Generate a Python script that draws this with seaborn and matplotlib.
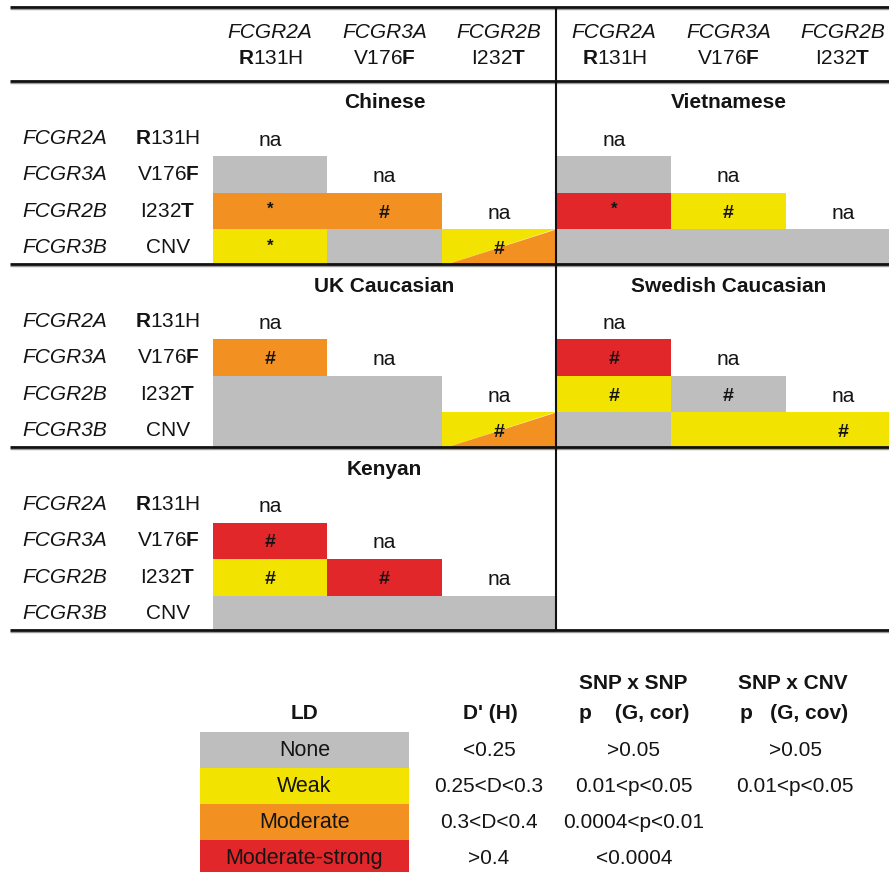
import numpy as np
import pandas as pd
import matplotlib
matplotlib.use("Agg")
import matplotlib.pyplot as plt
from matplotlib.colors import ListedColormap
from matplotlib.patches import Polygon
import seaborn as sns

# ---------------------------------------------------------------- data
genes = ["FCGR2A", "FCGR3A", "FCGR2B", "FCGR3B"]
variants = [r"$\mathbf{R}$131H", r"V176$\mathbf{F}$", r"I232$\mathbf{T}$", "CNV"]
col_genes = ["FCGR2A", "FCGR3A", "FCGR2B"]
col_variants = [r"$\mathbf{R}$131H", r"V176$\mathbf{F}$", r"I232$\mathbf{T}$"]

ld_levels = ["None", "Weak", "Moderate", "Moderate-strong"]
ld_colors = ["#BEBEBE", "#F2E400", "#F29122", "#E2272A"]

dprime_ranges = ["<0.25", "0.25<D<0.3", "0.3<D<0.4", ">0.4"]
snp_snp_p = [">0.05", "0.01<p<0.05", "0.0004<p<0.01", "<0.0004"]
snp_cnv_p = [">0.05", "0.01<p<0.05", "", ""]

N = np.nan
# LD level per pair (rows: genes, cols: col_genes); NaN = diagonal / empty
chinese_ld = [[N, N, N], [0, N, N], [2, 2, N], [1, 0, N]]
chinese_marks = [["na", "", ""], ["", "na", ""], ["*", "#", "na"], ["*", "", "#"]]
chinese_split = [(3, 2, 1, 2)]

vietnamese_ld = [[N, N, N], [0, N, N], [3, 1, N], [0, 0, 0]]
vietnamese_marks = [["na", "", ""], ["", "na", ""], ["*", "#", "na"], ["", "", ""]]
vietnamese_split = []

uk_ld = [[N, N, N], [2, N, N], [0, 0, N], [0, 0, N]]
uk_marks = [["na", "", ""], ["#", "na", ""], ["", "", "na"], ["", "", "#"]]
uk_split = [(3, 2, 1, 2)]

swedish_ld = [[N, N, N], [3, N, N], [1, 0, N], [0, 1, 1]]
swedish_marks = [["na", "", ""], ["#", "na", ""], ["#", "#", "na"], ["", "", "#"]]
swedish_split = []

kenyan_ld = [[N, N, N], [3, N, N], [1, 3, N], [0, 0, 0]]
kenyan_marks = [["na", "", ""], ["#", "na", ""], ["#", "#", "na"], ["", "", ""]]
kenyan_split = []

populations = [
    ("Chinese", chinese_ld, chinese_marks, chinese_split, 0, 0),
    ("Vietnamese", vietnamese_ld, vietnamese_marks, vietnamese_split, 1, 0),
    ("UK Caucasian", uk_ld, uk_marks, uk_split, 0, 1),
    ("Swedish Caucasian", swedish_ld, swedish_marks, swedish_split, 1, 1),
    ("Kenyan", kenyan_ld, kenyan_marks, kenyan_split, 0, 2),
]

# ---------------------------------------------------------------- style
sns.set_theme(style="white")
plt.rcParams["font.family"] = ["Liberation Sans", "DejaVu Sans"]
plt.rcParams["mathtext.fontset"] = "custom"
plt.rcParams["mathtext.rm"] = "Liberation Sans"
plt.rcParams["mathtext.bf"] = "Liberation Sans:bold"
plt.rcParams["mathtext.it"] = "Liberation Sans:italic"
plt.rcParams["mathtext.default"] = "regular"

W, H = 889, 872
FS = 15
TXT = "#141414"
cmap = ListedColormap(ld_colors)

fig = plt.figure(figsize=(W / 100, H / 100), dpi=100)


def add_px_axes(x0, y0, x1, y1, **kw):
    """Axes placed by pixel box (origin top-left)."""
    return fig.add_axes([x0 / W, 1 - y1 / H, (x1 - x0) / W, (y1 - y0) / H], **kw)


# layout (pixels)
panel_x = [213, 557]
col_w = 114.4
block_tops = [81, 264, 447]
row_h = 36.5
title_off = 22
rows_off = 39

for name, ld, marks, splits, pc, pr in populations:
    x0 = panel_x[pc]
    y0 = block_tops[pr] + rows_off
    ax = add_px_axes(x0, y0, x0 + 3 * col_w, y0 + 4 * row_h)
    df = pd.DataFrame(ld, index=genes, columns=col_genes, dtype=float)
    sns.heatmap(df, ax=ax, cmap=cmap, vmin=-0.5, vmax=3.5, cbar=False,
                xticklabels=False, yticklabels=False, linewidths=0)
    for r, c, upper, lower in splits:
        ax.add_patch(Polygon([(c, r + 1), (c, r), (c + 1, r)], closed=True,
                             facecolor=ld_colors[upper], edgecolor="none"))
        ax.add_patch(Polygon([(c, r + 1), (c + 1, r), (c + 1, r + 1)], closed=True,
                             facecolor=ld_colors[lower], edgecolor="none"))
    for r, row in enumerate(marks):
        for c, m in enumerate(row):
            if not m:
                continue
            if m == "na":
                ax.text(c + 0.5, r + 0.55, m, ha="center", va="center",
                        fontsize=FS, color=TXT)
            elif m == "#":
                ax.text(c + 0.5, r + 0.55, m, ha="center", va="center",
                        fontsize=14, fontweight="bold", color=TXT)
            else:
                ax.text(c + 0.5, r + 0.45, m, ha="center", va="center",
                        fontsize=12, fontweight="bold", color=TXT)
    ax.set_axis_off()

# legend swatches
lax = add_px_axes(200, 732, 409, 732 + 4 * 36)
leg_df = pd.DataFrame({"LD": np.arange(len(ld_levels), dtype=float)}, index=ld_levels)
sns.heatmap(leg_df, ax=lax, cmap=cmap, vmin=-0.5, vmax=3.5, cbar=False,
            xticklabels=False, yticklabels=False, linewidths=0)
for i, lvl in enumerate(ld_levels):
    lax.text(0.5, i + 0.52, lvl, ha="center", va="center", fontsize=15.5, color=TXT)
lax.set_axis_off()

# ---------------------------------------------------------------- frame, labels
base = fig.add_axes([0, 0, 1, 1], zorder=10)
base.set_xlim(0, W)
base.set_ylim(H, 0)
base.set_axis_off()

# horizontal rules with a soft grey under-shadow
for y in [7, block_tops[0], block_tops[1], block_tops[2], 630]:
    base.plot([10, W], [y + 2.2, y + 2.2], color="#9a9a9a", lw=1.0, solid_capstyle="butt")
    base.plot([10, W], [y, y], color="#111111", lw=2.0, solid_capstyle="butt")
base.plot([556, 556], [7, 630], color="#111111", lw=1.5, solid_capstyle="butt")

# column headers
for pc in range(2):
    for c in range(3):
        xc = panel_x[pc] + (c + 0.5) * col_w
        base.text(xc, 32, col_genes[c], ha="center", va="center",
                  fontsize=FS, style="italic", color=TXT)
        base.text(xc, 59, col_variants[c], ha="center", va="center",
                  fontsize=FS, color=TXT)

# population titles and row labels
for name, ld, marks, splits, pc, pr in populations:
    top = block_tops[pr]
    xc = panel_x[pc] + 1.5 * col_w
    base.text(xc, top + title_off, name, ha="center", va="center",
              fontsize=FS, fontweight="bold", color=TXT)
for pr in range(3):
    y0 = block_tops[pr] + rows_off
    for r in range(4):
        yc = y0 + (r + 0.5) * row_h
        base.text(22, yc, genes[r], ha="left", va="center",
                  fontsize=FS, style="italic", color=TXT)
        base.text(168, yc, variants[r], ha="center", va="center",
                  fontsize=FS, color=TXT)

# legend headers and thresholds
base.text(304, 713, "LD", ha="center", va="center", fontsize=FS, fontweight="bold", color=TXT)
base.text(490, 713, "D' (H)", ha="center", va="center", fontsize=FS, fontweight="bold", color=TXT)
base.text(633, 683, "SNP x SNP", ha="center", va="center", fontsize=FS, fontweight="bold", color=TXT)
base.text(634, 713, "p    (G, cor)", ha="center", va="center", fontsize=FS, fontweight="bold", color=TXT)
base.text(793, 683, "SNP x CNV", ha="center", va="center", fontsize=FS, fontweight="bold", color=TXT)
base.text(794, 713, "p   (G, cov)", ha="center", va="center", fontsize=FS, fontweight="bold", color=TXT)
for i in range(len(ld_levels)):
    yc = 732 + (i + 0.52) * 36
    base.text(489, yc, dprime_ranges[i], ha="center", va="center", fontsize=FS, color=TXT)
    base.text(634, yc, snp_snp_p[i], ha="center", va="center", fontsize=FS, color=TXT)
    if snp_cnv_p[i]:
        base.text(795, yc, snp_cnv_p[i], ha="center", va="center", fontsize=FS, color=TXT)

fig.savefig("out.png", dpi=100)
